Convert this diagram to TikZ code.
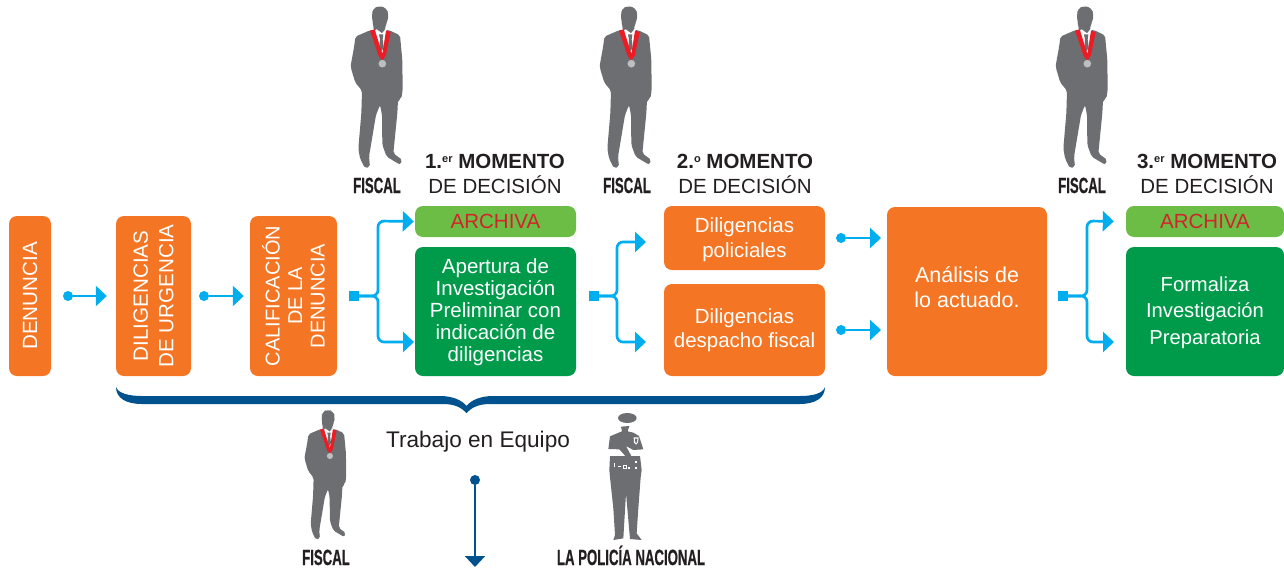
\documentclass[tikz,border=0pt]{standalone}
\usepackage{fontspec}
\setmainfont{Liberation Sans}
\newfontfamily\condfont[FakeStretch=0.6,FakeBold=0.6]{Liberation Sans}
\usetikzlibrary{arrows.meta}
\definecolor{boxorange}{HTML}{F47523}
\definecolor{boxgreen}{HTML}{009A4B}
\definecolor{lightgreen}{HTML}{6CBD45}
\definecolor{archred}{HTML}{D2232A}
\definecolor{linkblue}{HTML}{00AEEF}
\definecolor{bracenavy}{HTML}{00528F}
\definecolor{mangray}{HTML}{6D6E71}
\definecolor{ribbonred}{HTML}{ED1C24}
\definecolor{medalgray}{HTML}{BCBEC0}
\definecolor{textblack}{HTML}{231F20}
\newcommand{\raisedmark}[1]{\raisebox{6.5pt}{\fontsize{11}{11}\selectfont #1}}
\tikzset{
  colorbox/.style={rounded corners=8pt,inner sep=0pt,align=center,text=white,font=\fontsize{20.5}{22}\selectfont},
  orangebox/.style={colorbox,fill=boxorange},
  greenbox/.style={colorbox,fill=boxgreen},
  archbox/.style={colorbox,fill=lightgreen,text=archred},
  uprighttext/.style={rotate=90,text=white,align=center,inner sep=0pt},
  momentotext/.style={text=textblack,align=center,inner sep=0pt,font=\fontsize{20.5}{25}\selectfont},
  linkarrow/.style={draw=linkblue,line width=2.7pt,-{Triangle[length=11pt,width=20pt]}},
  linkdot/.style={circle,fill=linkblue,inner sep=0pt,minimum size=10pt},
  linksquare/.style={rectangle,fill=linkblue,inner sep=0pt,minimum size=10pt},
  roletext/.style={text=textblack,inner sep=0pt,anchor=base,font=\condfont\bfseries\fontsize{22}{22}\selectfont},
  pics/fiscalman/.style={code={
    \fill[mangray,rounded corners=4pt] (96,45) -- (98,26) -- (118,17) -- (140,24) -- (146,45) -- (142,66) -- (134,80) -- (136,98) -- (100,98) -- (102,80) -- (97,66) -- cycle;
    \fill[mangray,rounded corners=2pt] (92,90) -- (46,110) .. controls (42,150) and (32,190) .. (33,205) -- (46,248) -- (66,272)
      -- (64,340) -- (55,445) -- (60,475) -- (75,505) -- (90,500) -- (87,470) -- (108,345) -- (120,315)
      -- (126,345) -- (127,435) -- (140,470) -- (180,494) -- (187,480) -- (160,460) -- (172,340) -- (174,300)
      -- (184,296) -- (188,270) -- (187,180) -- (180,106) -- (146,90) -- cycle;
    \fill[white] (104,92) -- (110,88) -- (126,100) -- (136,88) -- (140,92) -- (127,170) -- cycle;
    \fill[mangray] (117,103) -- (130,103) -- (128,118) -- (131,142) -- (124,155) -- (118,142) -- (120,118) -- cycle;
    \fill[ribbonred] (90,92) -- (104,88) -- (127,162) -- (138,92) -- (152,96) -- (138,165) -- (127,182) -- (116,168) -- cycle;
    \fill[medalgray] (127,191) circle (11.5);
  }},
  pics/policewoman/.style={code={
    \fill[mangray] (1012,84) ellipse (28 and 15);
    \fill[mangray] (993,110) -- (1018,108) -- (1013,124) -- (1030,128) -- (1047,138) -- (1060,178) -- (1030,180) -- (1008,168)
      -- (1024,198) -- (1050,198) -- (1055,240) -- (1052,262) -- (1045,355) -- (1040,430) -- (1055,450) -- (1020,447)
      -- (1008,310) -- (1000,445) -- (970,450) -- (975,435) -- (970,355) -- (960,262) -- (958,240) -- (960,198)
      -- (1006,198) -- (988,178) -- (955,177) -- (960,139) -- (986,128) -- (996,124) -- cycle;
    \fill[white] (1031,142) -- (1046,142) -- (1044,158) -- (1038,164) -- (1032,158) -- cycle;
    \fill[mangray] (1035,146) -- (1042,146) -- (1041,156) -- (1038,159) -- (1036,156) -- cycle;
    \fill[white] (999,224) rectangle (1011,238);
    \fill[mangray] (1002,227) rectangle (1008,235);
    \fill[white] (1013,231) rectangle (1020,238);
    \fill[white] (983,228) rectangle (994,231);
    \fill[white] (1036,212) rectangle (1040,220);
    \fill[white] (1036,230) rectangle (1040,238);
    \fill[white] (972,220) rectangle (976,232);
  }}
}
\begin{document}
\begin{tikzpicture}[x=1pt,y=-1pt]
  \useasboundingbox (0,0) rectangle (1284,568);

  \node[orangebox,minimum width=42pt,minimum height=160pt] (denuncia) at (30,296) {};
  \node[orangebox,minimum width=75pt,minimum height=160pt] (urgencia) at (153.5,296) {};
  \node[orangebox,minimum width=87pt,minimum height=160pt] (calificacion) at (293.5,296) {};
  \node[archbox,minimum width=161pt,minimum height=31pt] (archivaone) at (495.5,221.5) {ARCHIVA};
  \node[greenbox,minimum width=161pt,minimum height=129pt,text depth=0pt] (apertura) at (495.5,311.5) {};
  \node[orangebox,minimum width=161pt,minimum height=64pt] (policiales) at (744.5,238) {};
  \node[orangebox,minimum width=161pt,minimum height=92pt] (despacho) at (744.5,330) {Diligencias\\[2.5pt]despacho fiscal};
  \node[orangebox,minimum width=160pt,minimum height=169pt] (analisis) at (967,291.5) {};
  \node[archbox,minimum width=158pt,minimum height=31pt] (archivatwo) at (1205,221.5) {ARCHIVA};
  \node[greenbox,minimum width=158pt,minimum height=129pt] (formaliza) at (1205,311.5) {};

  \node[colorbox] (aperturatext) at (495.5,312.5) {Apertura de\\Investigación\\Preliminar con\\indicación de\\diligencias};
  \node[colorbox] (policialestext) at (744.5,239.5) {Diligencias\\[2.5pt]policiales};
  \node[colorbox,font=\fontsize{21.5}{22}\selectfont] (analisistext) at (967,287) {Análisis de\\[3pt]lo actuado.};
  \node[colorbox,font=\fontsize{20.2}{22}\selectfont] (formalizatext) at (1205,312.5) {Formaliza\\[4.5pt]Investigación\\[4.5pt]Preparatoria};
  \node[uprighttext,font=\fontsize{20.6}{24}\selectfont] (denunciatext) at (denuncia) {DENUNCIA};
  \node[uprighttext,font=\fontsize{20.6}{25.5}\selectfont] (urgenciatext) at (urgencia) {DILIGENCIAS\\DE URGENCIA};
  \node[uprighttext,font=\fontsize{20}{22.5}\selectfont] (calificaciontext) at (calificacion) {CALIFICACIÓN\\DE LA\\DENUNCIA};

  \node[linkdot] (dotone) at (68,296) {};
  \node[linkdot] (dottwo) at (204,296) {};
  \node[linkdot] (dotthree) at (841,238) {};
  \node[linkdot] (dotfour) at (841,330) {};
  \node[linksquare] (squareone) at (354,296) {};
  \node[linksquare] (squaretwo) at (594,296) {};
  \node[linksquare] (squarethree) at (1063,296) {};
  \coordinate (tipone) at (414,342);
  \coordinate (tiptwo) at (646,342);
  \coordinate (tipthree) at (646,242);
  \coordinate (tipfour) at (881,238);
  \coordinate (tipfive) at (881,330);
  \coordinate (tipsix) at (1114,342);

  \draw[linkarrow,shorten >=9pt] (dotone) -- (urgencia.west);
  \draw[linkarrow,shorten >=6pt] (dottwo) -- (calificacion.west);
  \draw[linkarrow,rounded corners=6pt,shorten >=1pt] (squareone) -- (378,296) -- (378,221) -- (archivaone.west);
  \draw[linkarrow,rounded corners=6pt] (squareone) -- (378,296) -- (378,342) -- (tipone);
  \draw[linkarrow,rounded corners=6pt] (squaretwo) -- (617,296) -- (617,242) -- (tipthree);
  \draw[linkarrow,rounded corners=6pt] (squaretwo) -- (617,296) -- (617,342) -- (tiptwo);
  \draw[linkarrow] (dotthree) -- (tipfour);
  \draw[linkarrow] (dotfour) -- (tipfive);
  \draw[linkarrow,rounded corners=6pt,shorten >=12pt] (squarethree) -- (1087,296) -- (1087,221) -- (archivatwo.west);
  \draw[linkarrow,rounded corners=6pt] (squarethree) -- (1087,296) -- (1087,342) -- (tipsix);

  \fill[bracenavy] (116,387) .. controls (118,393) and (128,396) .. (142,396) -- (440,396)
    .. controls (452,396) and (462,400) .. (466.5,406) .. controls (471,400) and (481,396) .. (493,396)
    -- (800,396) .. controls (814,396) and (823,393) .. (825,387) .. controls (825,398) and (815,404) .. (800,404)
    -- (490,404) .. controls (478,404) and (471,408) .. (466.5,413) .. controls (462,408) and (455,404) .. (443,404)
    -- (142,404) .. controls (126,404) and (116,398) .. (116,387) -- cycle;

  \node[text=textblack,inner sep=0pt,font=\fontsize{22.6}{24}\selectfont] (equipo) at (478,442) {Trabajo en Equipo};
  \node[circle,fill=bracenavy,inner sep=0pt,minimum size=10pt] (dotequipo) at (475,480) {};
  \coordinate (tipequipo) at (475,567);
  \draw[draw=bracenavy,line width=2pt,-{Triangle[length=11pt,width=20pt]}] (dotequipo) -- (tipequipo);

  \node[momentotext] (momentoone) at (495,174) {\textbf{1.\raisedmark{er} MOMENTO}\\DE DECISIÓN};
  \node[momentotext] (momentotwo) at (745,174) {\textbf{2.\raisedmark{o} MOMENTO}\\DE DECISIÓN};
  \node[momentotext] (momentothree) at (1207,174) {\textbf{3.\raisedmark{er} MOMENTO}\\DE DECISIÓN};

  \pic[scale=1/3] at (340,0) {fiscalman};
  \pic[scale=1/3] at (589,0) {fiscalman};
  \pic[scale=1/3] at (1045,0) {fiscalman};
  \pic[scale=0.267] at (296,405) {fiscalman};
  \pic[scale=1/3] at (290,390) {policewoman};

  \node[roletext] (fiscalone) at (377,193) {FISCAL};
  \node[roletext] (fiscaltwo) at (627,193) {FISCAL};
  \node[roletext] (fiscalthree) at (1082,193) {FISCAL};
  \node[roletext] (fiscalfour) at (326,565) {FISCAL};
  \node[roletext] (policia) at (631,565) {LA POLICÍA NACIONAL};
\end{tikzpicture}
\end{document}
